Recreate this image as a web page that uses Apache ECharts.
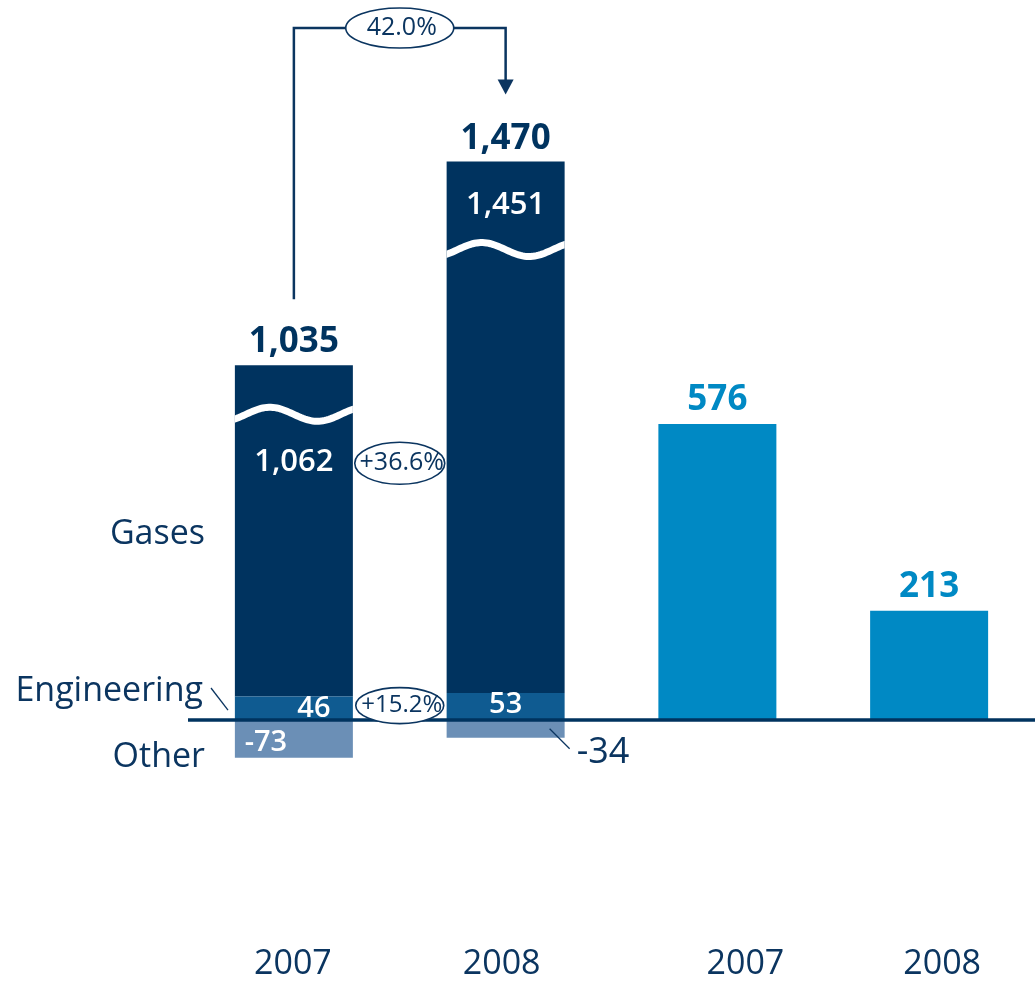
<!DOCTYPE html>
<html>
<head>
<meta charset="utf-8">
<script src="https://cdn.jsdelivr.net/npm/echarts@6/dist/echarts.min.js"></script>
<style>
  html, body { margin: 0; padding: 0; background: #ffffff; }
  #chart { width: 1035px; height: 981px; }
</style>
</head>
<body>
<div id="chart"></div>
<script>
// Category labels along the bottom
const years = ['2007', '2008', '2007', '2008'];

// Segment values of the two stacked bars (2007, 2008)
const gases = [1062, 1451];
const engineering = [46, 53];
const other = [-73, -34];
const groupTotals = [1035, 1470];

// Values of the two single bars on the right (2007, 2008)
const singleValues = [576, 213];

// Year-on-year change labels
const totalChange = '42.0%';
const gasesChange = '+36.6%';
const engineeringChange = '+15.2%';

// Segment names written at the left
const segmentNames = ['Gases', 'Engineering', 'Other'];

// ---- styling ----
const DARK = '#00335f';
const ENG = '#0f5b91';
const OTHER = '#6b8fb6';
const LIGHT = '#0089c4';
const TEXT = '#0b3560';
const FONT = '"Open Sans", "Noto Sans", sans-serif';
const BAR_W = 118;
const BREAK_SPAN = 418;            // value range left out inside each broken Gases bar
const waveDrop = [49, 88];         // px from bar top to the wave cut
const gasesLabelDrop = [97, 44];   // px from bar top to the Gases value label
const WAVE = { period: 95, amp: 7, phase: 35, width: 7 };

const pad = (n) => Array.from({ length: n }, () => '-');

const chart = echarts.init(document.getElementById('chart'), null, { renderer: 'canvas' });

function renderGases(params, api) {
  const i = api.value(0);
  const g = api.value(1);
  const base = api.value(2);
  const total = api.value(3);
  const bottom = api.coord([i, base]);
  const top = api.coord([i, base + g - BREAK_SPAN]);
  const cx = bottom[0];
  const left = cx - BAR_W / 2;
  const yTop = top[1];
  const h = bottom[1] - yTop;
  const yc = yTop + waveDrop[i];
  const pts = [];
  for (let x = -8; x <= BAR_W + 8; x += 2) {
    pts.push([left + x, yc - WAVE.amp * Math.cos(2 * Math.PI * (x - WAVE.phase) / WAVE.period)]);
  }
  const fmt = (v) => v.toLocaleString('en-US');
  return {
    type: 'group',
    children: [
      { type: 'rect', shape: { x: left, y: yTop, width: BAR_W, height: h }, style: { fill: DARK } },
      {
        type: 'polyline',
        shape: { points: pts },
        style: { stroke: '#ffffff', lineWidth: WAVE.width, fill: null },
        clipPath: { type: 'rect', shape: { x: left, y: yTop, width: BAR_W, height: h } }
      },
      {
        type: 'text',
        style: {
          text: fmt(g), x: cx, y: yTop + gasesLabelDrop[i], fill: '#ffffff',
          fontSize: 31, fontFamily: FONT, fontWeight: 600, align: 'center', verticalAlign: 'middle'
        }
      },
      {
        type: 'text',
        style: {
          text: fmt(total), x: cx, y: yTop - 23, fill: DARK,
          fontSize: 35, fontFamily: FONT, fontWeight: 'bold', align: 'center', verticalAlign: 'middle'
        }
      }
    ]
  };
}

const engLabelOffsets = [[20, 0], [0, -2]];
const otherLabelStyles = [
  { show: true, position: 'inside', offset: [-28, 4], color: '#ffffff', fontSize: 29, fontWeight: 600 },
  { show: true, position: 'right', distance: 12, offset: [0, 24], color: TEXT, fontSize: 36, fontWeight: 'normal' }
];

const option = {
  animation: false,
  backgroundColor: '#ffffff',
  textStyle: { fontFamily: FONT },
  grid: { left: 188, top: 0, width: 848, height: 928 },
  xAxis: {
    type: 'category',
    data: years,
    axisLine: { show: false },
    axisTick: { show: false },
    axisLabel: {
      margin: 21,
      color: TEXT,
      fontSize: 34,
      fontFamily: FONT,
      formatter: (v, i) => `{s${i}|${v}}`,
      rich: {
        s0: { fontSize: 34, color: TEXT, padding: [0, 2, 0, 0] },
        s1: { fontSize: 34, color: TEXT, padding: [0, 8, 0, 0] },
        s2: { fontSize: 34, color: TEXT, padding: [0, 0, 0, 56] },
        s3: { fontSize: 34, color: TEXT, padding: [0, 0, 0, 26] }
      }
    }
  },
  yAxis: { type: 'value', min: -400, max: 1400, show: false, splitLine: { show: false } },
  series: [
    {
      name: 'Engineering',
      type: 'bar',
      stack: 'seg',
      barWidth: BAR_W,
      itemStyle: { color: ENG },
      label: { show: true, position: 'inside', color: '#ffffff', fontSize: 29, fontWeight: 600, fontFamily: FONT },
      data: engineering.map((v, i) => ({ value: v, label: { offset: engLabelOffsets[i] } })).concat(pad(2))
    },
    {
      name: 'Other',
      type: 'bar',
      stack: 'seg',
      barWidth: BAR_W,
      itemStyle: { color: OTHER },
      label: { show: true, fontFamily: FONT },
      data: other.map((v, i) => ({ value: v, label: otherLabelStyles[i] })).concat(pad(2))
    },
    {
      name: 'Single',
      type: 'bar',
      stack: 'seg',
      barWidth: BAR_W,
      itemStyle: { color: LIGHT },
      label: {
        show: true, position: 'top', distance: 6, color: LIGHT,
        fontSize: 35, fontWeight: 'bold', fontFamily: FONT
      },
      data: pad(2).concat(singleValues),
      markLine: {
        silent: true,
        symbol: 'none',
        label: { show: false },
        lineStyle: { color: DARK, width: 3.5, type: 'solid' },
        data: [{ yAxis: 0 }]
      }
    },
    {
      name: 'Gases',
      type: 'custom',
      renderItem: renderGases,
      encode: { x: 0, y: 1 },
      data: gases.map((g, i) => [i, g, engineering[i], groupTotals[i]])
    }
  ]
};

chart.setOption(option);

// Annotations: bracket with total change, change ovals, segment names, leader lines
function px(i, v) { return chart.convertToPixel({ gridIndex: 0 }, [i, v]); }

const x0 = px(0, 0)[0];
const x1 = px(1, 0)[0];
const midX = (x0 + x1) / 2;
const top0 = px(0, gases[0] + engineering[0] - BREAK_SPAN)[1];
const top1 = px(1, gases[1] + engineering[1] - BREAK_SPAN)[1];
const zeroY = px(0, 0)[1];
const bracketY = 28;
const lineStyle = { stroke: TEXT, lineWidth: 2.5, fill: null };

function oval(cx, cy, rx, ry, text, size) {
  return [
    { type: 'ellipse', shape: { cx, cy, rx, ry }, style: { fill: '#ffffff', stroke: TEXT, lineWidth: 1.6 }, z: 20 },
    {
      type: 'text', z: 21,
      style: { text, x: cx + 2, y: cy, fill: TEXT, fontSize: size, fontFamily: FONT, align: 'center', verticalAlign: 'middle' }
    }
  ];
}

function nameText(text, x, y, size) {
  return {
    type: 'text', z: 20,
    style: { text, x, y, fill: TEXT, fontSize: size, fontFamily: FONT, align: 'right', verticalAlign: 'middle' }
  };
}

const tipY = top1 - 67;
const engMid2 = px(1, engineering[1] / 2)[1];
const otherBottom2 = px(1, other[1])[1];

const elements = [
  { type: 'polyline', z: 19, shape: { points: [[x0, top0 - 66], [x0, bracketY], [x1, bracketY], [x1, tipY - 12]] }, style: lineStyle },
  { type: 'polygon', z: 19, shape: { points: [[x1 - 8, tipY - 15], [x1 + 8, tipY - 15], [x1, tipY]] }, style: { fill: TEXT } },
  ...oval(midX, bracketY, 54, 20, totalChange, 25),
  ...oval(midX, top0 + gasesLabelDrop[0] + 1, 45, 21, gasesChange, 25),
  ...oval(midX, engMid2 - 1, 44, 18, engineeringChange, 24),
  nameText(segmentNames[0], 205, 534, 34),
  nameText(segmentNames[1], 203, 691, 34),
  nameText(segmentNames[2], 205, 757, 34),
  { type: 'line', z: 19, shape: { x1: 211, y1: 688, x2: 228, y2: zeroY - 10 }, style: { stroke: TEXT, lineWidth: 1.3 } },
  { type: 'line', z: 19, shape: { x1: x1 + 44, y1: otherBottom2 - 9, x2: x1 + 64, y2: otherBottom2 + 11 }, style: { stroke: TEXT, lineWidth: 1.3 } }
];

chart.setOption({ graphic: { elements } });
</script>
</body>
</html>
